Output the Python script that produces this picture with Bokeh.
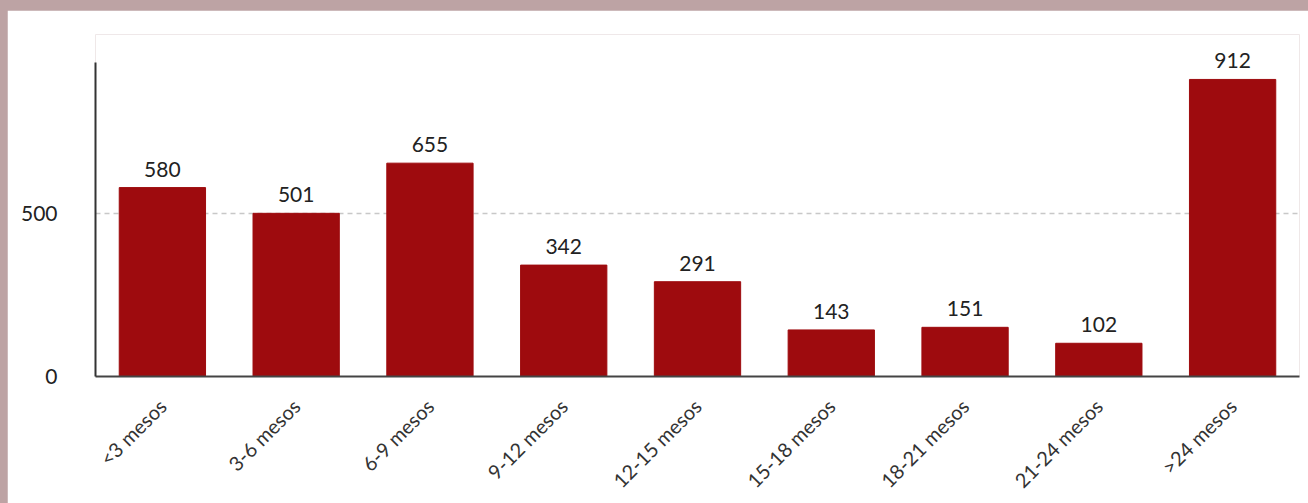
from bokeh.plotting import figure
from bokeh.layouts import column
from bokeh.models import FixedTicker, ColumnDataSource, LabelSet
from bokeh.core.properties import value
from bokeh.embed import file_html
from bokeh.resources import INLINE
import math

categories = ["<3 mesos", "3-6 mesos", "6-9 mesos", "9-12 mesos", "12-15 mesos",
              "15-18 mesos", "18-21 mesos", "21-24 mesos", ">24 mesos"]
counts = [580, 501, 655, 342, 291, 143, 151, 102, 912]
y_ticks = [0, 500]

FONT = "Lato"
BAR = "#9e0b0e"

src = ColumnDataSource(dict(cat=categories, val=counts, lab=[str(v) for v in counts]))

p = figure(x_range=categories, y_range=(0, 1050), width=1301, height=493,
           output_backend="svg", toolbar_location=None,
           min_border_left=88, min_border_right=9, min_border_top=24, min_border_bottom=127)
p.outline_line_color = None
p.background_fill_color = "#ffffff"
p.border_fill_color = "#ffffff"

p.vbar(x="cat", top="val", width=0.645, source=src, fill_color=BAR, line_color=BAR)
labels = LabelSet(x="cat", y="val", text="lab", source=src, text_align="center",
                  text_baseline="bottom", y_offset=11, text_font=value(FONT),
                  text_font_size="21px", text_color="#222222")
p.add_layout(labels)

p.xgrid.grid_line_color = None
p.ygrid.ticker = FixedTicker(ticks=[500])
p.ygrid.grid_line_color = "#c8c8c8"
p.ygrid.grid_line_dash = "5 4"
p.ygrid.grid_line_width = 1.5

p.yaxis.ticker = FixedTicker(ticks=y_ticks)
p.yaxis.bounds = (0, 964)
p.yaxis.axis_line_color = "#333333"
p.yaxis.axis_line_width = 2
p.yaxis.major_tick_line_color = None
p.yaxis.minor_tick_line_color = None
p.yaxis.major_label_standoff = 32
p.yaxis.major_label_text_font = FONT
p.yaxis.major_label_text_font_size = "21px"
p.yaxis.major_label_text_color = "#222222"

p.xaxis.axis_line_color = "#444444"
p.xaxis.axis_line_width = 2
p.xaxis.major_tick_line_color = None
p.xaxis.minor_tick_line_color = None
p.xaxis.major_label_orientation = math.pi / 4
p.xaxis.major_label_standoff = 20
p.xaxis.major_label_text_font = FONT
p.xaxis.major_label_text_font_size = "20px"
p.xaxis.major_label_text_color = "#333333"
p.x_range.range_padding = 0

layout = column(p, styles={"background-color": "#bda3a4", "padding-left": "7px",
                           "padding-top": "10px"})

open("out.html", "w").write(file_html(layout, INLINE))
